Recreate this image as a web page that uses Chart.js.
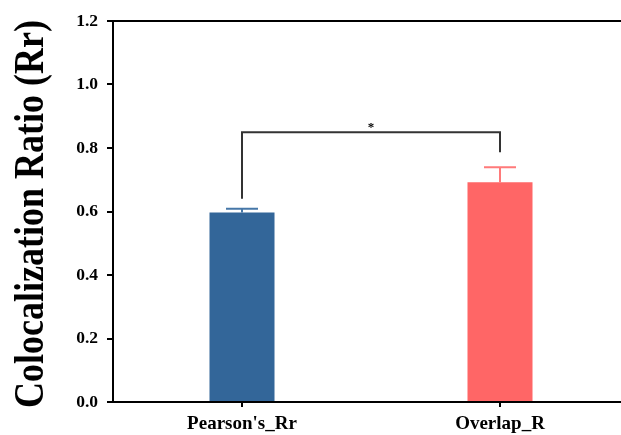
<!DOCTYPE html>
<html lang="en">
<head>
  <meta charset="UTF-8" />
  <title>Colocalization Ratio</title>
  <style>
    body {
      margin: 0;
      background: #ffffff;
      overflow: hidden;
    }
    #chartBox {
      position: absolute;
      left: 0;
      top: 0;
    }
  </style>
</head>
<body>
  <canvas id="chartBox" width="632" height="435"></canvas>

  <script src="https://cdn.jsdelivr.net/npm/chart.js"></script>
  <script>
    // data
    const categories = ["Pearson's_Rr", "Overlap_R"];
    const means = [0.597, 0.692];
    const errors = [0.012, 0.047];
    const barColors = ["#336699", "#ff6666"];
    const errColors = ["#4677a8", "#ff7a7a"];
    const yTicks = [0.0, 0.2, 0.4, 0.6, 0.8, 1.0, 1.2];
    const yTitle = "Colocalization Ratio (Rr)";

    // significance bracket (data units)
    const sigLevel = 0.85;
    const sigLeftEnd = 0.64;
    const sigRightEnd = 0.787;
    const sigMark = "*";

    const serif = '"Liberation Serif", "Times New Roman", serif';

    const errorBars = {
      id: 'errorBars',
      afterDatasetsDraw(chart) {
        const ctx = chart.ctx;
        const y = chart.scales.y;
        const bars = chart.getDatasetMeta(0).data;
        ctx.save();
        bars.forEach((bar, i) => {
          const top = y.getPixelForValue(means[i] + errors[i]);
          ctx.strokeStyle = errColors[i];
          ctx.lineWidth = 2;
          ctx.beginPath();
          ctx.moveTo(bar.x, bar.y);
          ctx.lineTo(bar.x, top);
          ctx.moveTo(bar.x - 16, top);
          ctx.lineTo(bar.x + 16, top);
          ctx.stroke();
        });
        ctx.restore();
      }
    };

    const extras = {
      id: 'extras',
      afterDraw(chart) {
        const ctx = chart.ctx;
        const area = chart.chartArea;
        const y = chart.scales.y;
        const bars = chart.getDatasetMeta(0).data;
        ctx.save();

        // top frame line
        ctx.strokeStyle = '#000';
        ctx.lineWidth = 2;
        ctx.beginPath();
        ctx.moveTo(area.left - 1, area.top);
        ctx.lineTo(chart.width, area.top);
        ctx.stroke();

        // bracket
        const x0 = bars[0].x, x1 = bars[1].x;
        const yl = y.getPixelForValue(sigLevel);
        ctx.strokeStyle = '#333';
        ctx.beginPath();
        ctx.moveTo(x0, y.getPixelForValue(sigLeftEnd));
        ctx.lineTo(x0, yl);
        ctx.lineTo(x1, yl);
        ctx.lineTo(x1, y.getPixelForValue(sigRightEnd));
        ctx.stroke();

        ctx.fillStyle = '#000';
        ctx.font = 'bold 13px ' + serif;
        ctx.textAlign = 'center';
        ctx.textBaseline = 'alphabetic';
        ctx.fillText(sigMark, (x0 + x1) / 2, yl - 1);

        // y axis title, slightly stretched like the original
        ctx.translate(43, 408);
        ctx.rotate(-Math.PI / 2);
        ctx.scale(1, 1.15);
        ctx.font = 'bold 36px ' + serif;
        ctx.textAlign = 'left';
        ctx.fillText(yTitle, 0, 0);
        ctx.restore();
      }
    };

    new Chart(document.getElementById('chartBox'), {
      type: 'bar',
      data: {
        labels: categories,
        datasets: [{
          data: means,
          backgroundColor: barColors,
          borderWidth: 0,
          categoryPercentage: 1,
          barPercentage: 0.252
        }]
      },
      options: {
        responsive: false,
        animation: false,
        layout: { padding: { top: 21, right: 3, left: 0, bottom: 0 } },
        plugins: {
          legend: { display: false },
          tooltip: { enabled: false }
        },
        scales: {
          x: {
            offset: true,
            grid: {
              offset: false,
              drawOnChartArea: false,
              drawTicks: true,
              tickLength: 5,
              color: '#000',
              lineWidth: 2
            },
            border: { display: true, color: '#000', width: 2 },
            ticks: {
              color: '#000',
              padding: 6,
              font: { family: serif, size: 19, weight: 'bold' }
            },
            afterFit(scale) { scale.height = 33; }
          },
          y: {
            min: 0,
            max: 1.2,
            afterBuildTicks(scale) {
              scale.ticks = yTicks.map(v => ({ value: v }));
            },
            grid: {
              drawOnChartArea: false,
              drawTicks: true,
              tickLength: 6,
              color: '#000',
              lineWidth: 2
            },
            border: { display: true, color: '#000', width: 2 },
            ticks: {
              color: '#000',
              padding: 9,
              callback: v => v.toFixed(1),
              font: { family: serif, size: 17.5, weight: 'bold' }
            },
            afterFit(scale) { scale.width = 113; }
          }
        }
      },
      plugins: [errorBars, extras]
    });
  </script>
</body>
</html>
